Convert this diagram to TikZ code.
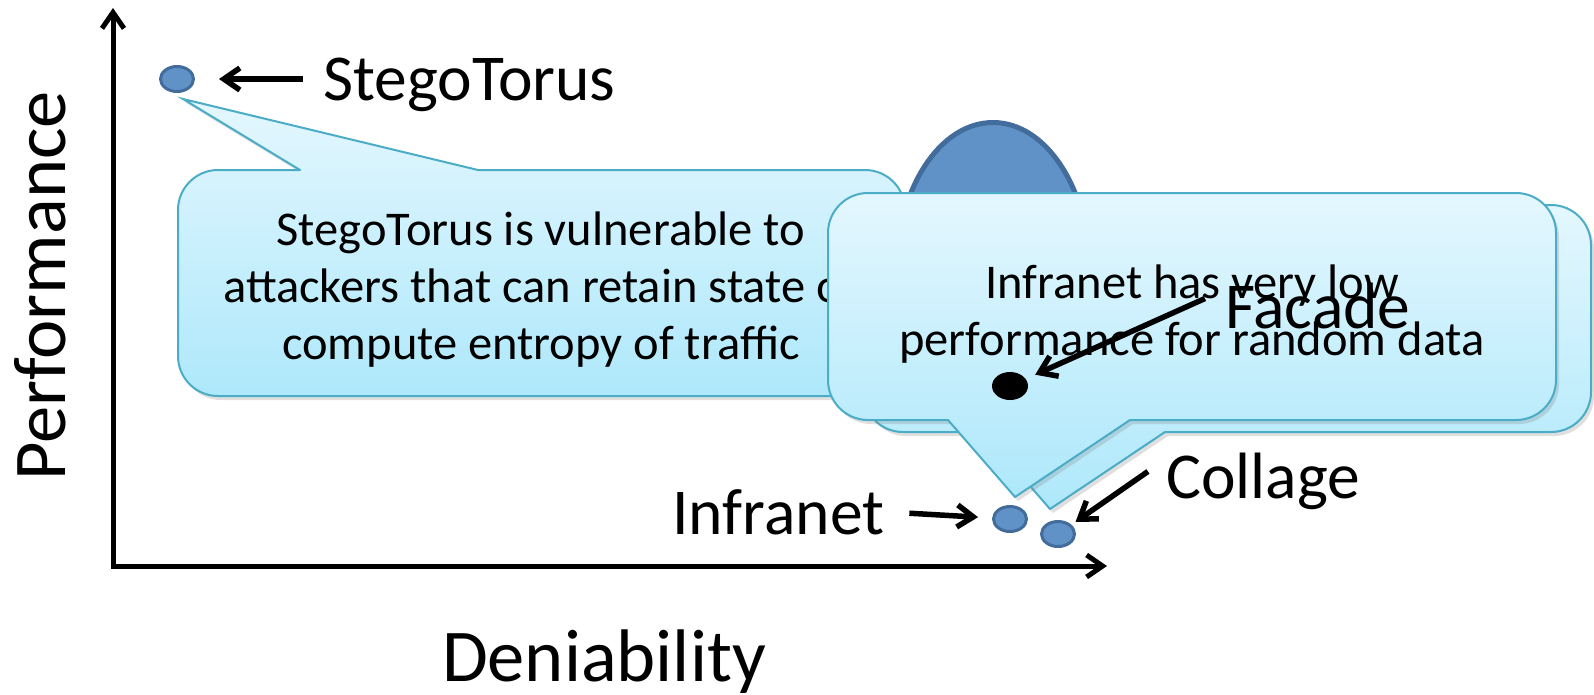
\documentclass[tikz,border=0pt]{standalone}
\usepackage{fontspec}
\setmainfont{Carlito}
\usetikzlibrary{arrows.meta,shapes.geometric,shadows,calc}
\definecolor{dotfill}{RGB}{96,146,199}
\definecolor{dotedge}{RGB}{66,108,155}
\definecolor{bubtop}{RGB}{228,247,254}
\definecolor{bubbot}{RGB}{174,232,251}
\definecolor{bubedge}{RGB}{75,172,198}

\begin{document}
\begin{tikzpicture}[x=1pt, y=-1pt, >={Straight Barb[length=16pt,width=22pt]},
	axis line/.style={line width=5pt, <->},
	pointer/.style={line width=5.5pt, ->},
	every dot/.style={ellipse, draw=dotedge, fill=dotfill, line width=3pt, minimum width=33pt, minimum height=25pt, inner sep=0pt},
	bubble/.style={top color=bubtop, bottom color=bubbot, drop shadow={shadow xshift=3pt, shadow yshift=-4pt, opacity=.25}},
	bubble edge/.style={draw=bubedge, line width=2pt, line cap=round},
	label text/.style={font=\fontsize{65.5}{78}\selectfont, inner sep=0pt, anchor=base west},
	bubble text/.style={font=\fontsize{48.5}{57}\selectfont, align=center, inner sep=0pt},
	axis text/.style={font=\fontsize{74.5}{90}\selectfont, inner sep=0pt, anchor=base}]
	\useasboundingbox (0,0) rectangle (1594,694);
	
	\coordinate (ytop) at (113,8);
	\coordinate (origin) at (113,566);
	\coordinate (xend) at (1107,566);
	\draw[axis line] (ytop) -- (origin) -- (xend);
	
	\node[axis text, rotate=90] (perf) at (65,286) {Performance};
	\node[axis text] (deny) at (604,681) {Deniability};
	
	\path[bubble] (178,170) [rounded corners=40pt] rectangle (905,396) [sharp corners] (300,170) -- (183,99) -- (478,170) -- cycle;
	\draw[bubble edge, rounded corners=40pt] (478,170) -| (905,396) -| (178,170) -- (300,170);
	\draw[bubble edge] (300,170) -- (183,99) -- (478,170);
	\node[bubble text] (stegonote) at (541,290) {StegoTorus is vulnerable to\\attackers that can retain state or\\compute entropy of traffic};
	
	\node[every dot, line width=5pt, minimum width=193pt, minimum height=297pt] (fcgrow) at (993,271) {};
	
	\foreach \dx/\dy in {35/12, 0/0} {
	\begin{scope}[shift={(\dx,\dy)}]
	\path[bubble] (828,193) [rounded corners=40pt] rectangle (1556,420) [sharp corners] (948,420) -- (1015,497) -- (1130,420) -- cycle;
	\draw[bubble edge, rounded corners=40pt] (1130,420) -| (1556,193) -| (828,420) -- (948,420);
	\draw[bubble edge] (948,420) -- (1015,497) -- (1130,420);
	\end{scope}
	}
	\node[bubble text] (infranote) at (1192,314) {Infranet has very low\\performance for random data};
	
	\foreach \n/\p in {stdot/{177,79}, indot/{1010,519}, coldot/{1058,534}}
	\node[every dot] (\n) at (\p) {};
	\node[every dot, draw=none, fill=black, minimum width=36pt, minimum height=28pt] (fcdot) at (1010,386) {};
	
	\node[label text] (stlab) at (323,100) {StegoTorus};
	\node[label text] (inlab) at (672,534) {Infranet};
	\node[label text] (collab) at (1166,498) {Collage};
	\node[label text] (fclab) at (1225,328) {Facade};
	
	\draw[pointer, shorten <=20pt, shorten >=24pt] (stlab.west |- stdot) -- (stdot);
	\draw[pointer, shorten <=25pt, shorten >=14pt] (inlab.east) -- (indot);
	\draw[pointer, shorten <=22pt, shorten >=5pt] ($(collab.west)+(0,-22)$) -- (coldot);
	\draw[pointer, shorten <=22pt, shorten >=9pt] ($(fclab.west)+(0,-16)$) -- (fcdot);
\end{tikzpicture}
\end{document}
